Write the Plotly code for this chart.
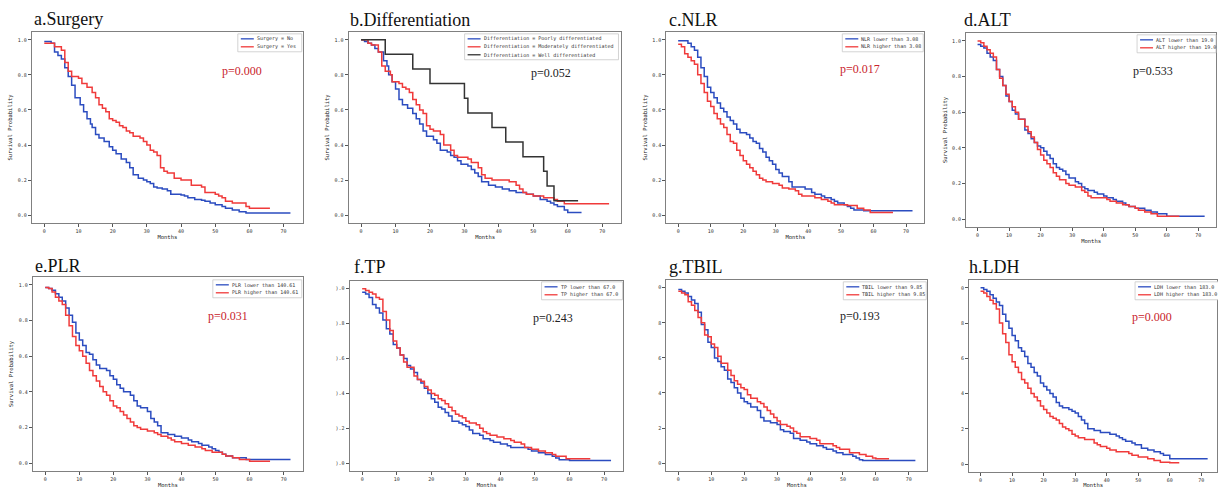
import plotly.graph_objects as go

W, H = 1218, 488
BLUE = "#2b4cc0"
RED = "#f03a3a"
BLACK = "#333333"
P_RED = "#c8232c"
P_BLACK = "#222222"
MONO = "DejaVu Sans Mono"
SERIF = "Liberation Serif"

# ---------------- data: (months, survival probability) ----------------
a_no = [(0,.99),(2,.98),(3,.93),(4,.91),(5,.89),(6,.84),(7,.79),(8,.74),(9,.67),(10.5,.63),(11.5,.59),(12.5,.55),(13.5,.52),(14,.50),(15,.46),(16,.44),(17.5,.42),(19,.39),(20,.37),(21,.35),(22.5,.32),(24,.30),(25,.27),(26,.23),(27.5,.21),(29,.20),(30,.19),(31,.18),(32,.16),(33,.155),(34.5,.15),(36,.14),(37,.12),(40,.115),(41,.11),(42,.10),(44,.09),(46,.085),(47,.08),(48.5,.07),(50,.06),(52,.05),(53,.04),(55,.03),(57,.02),(59,.012),(72,.012)]
a_yes = [(0,.98),(3,.96),(5,.94),(6,.87),(7,.82),(8,.79),(10,.78),(11,.75),(12.5,.73),(14,.70),(15,.67),(16,.63),(17,.61),(18,.59),(19,.55),(20,.54),(21,.53),(22,.51),(23,.50),(24,.48),(25,.47),(26,.45),(28,.44),(29,.42),(30,.40),(31,.37),(32,.36),(33,.34),(34,.27),(35,.25),(36,.24),(38,.21),(40,.20),(43,.17),(46,.16),(47,.13),(50,.12),(51,.11),(52,.10),(53,.08),(55,.07),(59,.05),(60,.04),(66,.04)]

b_poor = [(0,1.0),(1,.99),(2,.98),(3,.97),(4,.95),(5,.93),(6.5,.88),(7.5,.85),(8,.80),(9,.76),(10,.72),(11,.66),(12,.63),(13.5,.61),(15,.58),(16,.55),(17,.52),(18,.48),(19,.45),(21,.43),(22,.41),(23,.37),(25,.36),(26,.34),(27,.33),(28,.31),(29,.29),(31,.28),(32,.26),(33,.24),(34,.22),(35,.19),(37,.17),(39,.16),(41,.15),(43,.14),(45,.13),(48,.12),(50,.11),(52,.09),(54,.08),(55,.07),(56,.06),(57,.05),(59,.03),(60,.015),(64,.015)]
b_mod = [(0,1.0),(2,.98),(3,.97),(5,.93),(6,.85),(7,.82),(8.5,.80),(9,.76),(11,.75),(12,.73),(13,.72),(14,.70),(15,.66),(16,.63),(17,.60),(18,.58),(19,.51),(20,.49),(21,.48),(23,.46),(24,.40),(26,.37),(27,.34),(28,.33),(31,.32),(32,.30),(34,.27),(35,.23),(36,.21),(38,.20),(43,.19),(45,.17),(46,.15),(47,.13),(48,.12),(50,.11),(53,.10),(56,.09),(57,.08),(59,.065),(72,.065)]
b_well = [(0,1.0),(7,.917),(15,.833),(20,.75),(30,.667),(31,.583),(38,.5),(42,.417),(47,.333),(53,.25),(54,.167),(56,.083),(63,.083)]

c_low = [(0,.995),(3,.98),(4,.96),(5,.94),(6,.90),(7,.84),(8,.79),(9,.73),(10,.70),(11,.67),(12,.64),(13,.61),(14,.59),(15,.56),(16,.54),(17,.52),(18,.49),(19,.47),(21,.46),(22,.44),(23,.42),(24,.41),(25,.38),(26,.36),(27,.33),(28,.31),(29,.29),(30,.26),(31,.24),(32,.22),(34,.19),(35,.16),(39,.15),(41,.13),(42,.12),(44,.11),(45,.10),(47,.09),(48,.08),(49,.07),(51,.06),(52,.05),(53,.04),(54,.03),(57,.025),(72,.025)]
c_high = [(0,.975),(1,.96),(2,.92),(3,.90),(4,.88),(5,.86),(6,.80),(7,.75),(8,.70),(9,.65),(10,.62),(11,.58),(12,.55),(13,.52),(14,.50),(15,.46),(16,.42),(17,.41),(18,.37),(19,.34),(20,.31),(21,.29),(22,.27),(23,.25),(24,.23),(25,.21),(26,.20),(27,.19),(29,.18),(31,.17),(32,.155),(34,.15),(36,.14),(37,.12),(38,.11),(42,.10),(44,.09),(46,.08),(47,.07),(48,.06),(52,.055),(55,.04),(57,.03),(59,.015),(66,.015)]

d_low = [(0,.98),(1,.97),(2,.96),(3,.93),(4,.91),(5,.89),(6,.84),(7,.80),(8,.75),(9,.69),(10,.66),(11,.61),(12,.59),(13,.56),(15,.50),(16,.48),(17,.45),(18,.43),(19,.41),(20,.40),(21,.38),(22,.36),(23,.34),(24,.31),(25,.29),(26,.28),(27,.27),(28,.25),(29,.23),(31,.21),(32,.20),(33,.18),(34,.17),(35,.16),(37,.15),(38,.14),(40,.13),(41,.12),(43,.11),(44,.10),(46,.09),(47,.08),(48,.07),(50,.06),(53,.05),(55,.04),(57,.03),(60,.015),(72,.015)]
d_high = [(0,1.0),(1,.99),(2,.97),(3,.95),(4,.93),(5,.91),(6,.84),(7,.79),(8,.75),(9,.70),(10,.66),(11,.63),(12,.60),(13,.56),(15,.52),(16,.49),(17,.46),(18,.43),(19,.39),(20,.36),(21,.33),(22,.31),(23,.29),(24,.26),(25,.24),(26,.22),(28,.20),(29,.19),(31,.18),(33,.16),(34,.15),(35,.13),(36,.12),(41,.11),(42,.10),(44,.09),(46,.08),(48,.07),(50,.06),(51,.05),(53,.04),(55,.03),(57,.015),(64,.015)]

e_low = [(0,.985),(1,.98),(2,.97),(3,.95),(4,.93),(5,.91),(6,.87),(7,.83),(8,.79),(9,.73),(10,.69),(11,.66),(12,.62),(13,.61),(14,.58),(15,.55),(16,.53),(18,.52),(19,.49),(20,.47),(21,.44),(22,.42),(23,.40),(25,.38),(26,.35),(27,.32),(28,.31),(30,.29),(31,.25),(32,.23),(33,.21),(34,.17),(36,.16),(38,.15),(40,.14),(42,.13),(43,.12),(45,.11),(46,.10),(48,.09),(49,.08),(50,.07),(51,.06),(52,.05),(53,.04),(55,.03),(59,.02),(72,.02)]
e_high = [(0,.985),(1,.98),(2,.96),(3,.93),(4,.91),(5,.89),(6,.83),(7,.77),(8,.71),(9,.66),(10,.63),(11,.60),(12,.56),(13,.52),(14,.49),(15,.46),(16,.43),(17,.40),(18,.38),(19,.35),(20,.32),(21,.31),(22,.29),(23,.27),(24,.25),(25,.23),(26,.21),(27,.20),(28,.19),(30,.18),(32,.17),(33,.16),(34,.15),(36,.14),(37,.13),(38,.12),(40,.11),(42,.10),(44,.09),(46,.08),(47,.07),(49,.06),(52,.05),(53,.04),(55,.03),(57,.02),(60,.01),(66,.01)]

f_low = [(0,.98),(1,.97),(2,.95),(3,.91),(4,.89),(5,.86),(6,.82),(7,.77),(8,.74),(9,.68),(10,.66),(11,.62),(12,.60),(13,.56),(14,.54),(15,.52),(16,.48),(17,.46),(18,.43),(19,.40),(20,.37),(21,.35),(22,.32),(23,.31),(24,.29),(25,.27),(26,.24),(28,.23),(29,.22),(30,.21),(31,.19),(32,.17),(34,.16),(35,.14),(37,.13),(38,.12),(40,.11),(42,.10),(43,.09),(48,.08),(49,.07),(51,.06),(53,.05),(55,.04),(56,.03),(57,.02),(60,.015),(72,.015)]
f_high = [(0,1.0),(1,.99),(2,.98),(3,.97),(4,.95),(5,.94),(6,.87),(7,.82),(8,.76),(9,.70),(10,.66),(11,.62),(12,.58),(13,.55),(15,.50),(16,.48),(17,.47),(18,.44),(19,.42),(20,.40),(21,.39),(22,.37),(23,.36),(24,.34),(25,.32),(26,.30),(27,.28),(28,.27),(29,.26),(30,.24),(31,.23),(33,.22),(34,.20),(35,.18),(36,.17),(37,.16),(39,.15),(41,.14),(43,.13),(44,.12),(46,.11),(47,.09),(49,.08),(51,.07),(53,.06),(55,.05),(56,.04),(59,.025),(66,.025)]

g_low = [(0,.99),(1,.98),(2,.97),(3,.95),(4,.93),(5,.91),(6,.86),(7,.79),(8,.76),(9,.69),(10,.66),(11,.60),(12,.58),(13,.55),(14,.53),(15,.48),(16,.46),(17,.43),(18,.40),(19,.37),(20,.35),(21,.34),(22,.32),(24,.30),(25,.26),(26,.24),(28,.23),(30,.22),(31,.19),(32,.18),(34,.17),(35,.14),(37,.13),(39,.12),(40,.11),(42,.10),(44,.09),(45,.08),(47,.07),(48,.06),(50,.05),(53,.04),(54,.03),(55,.02),(56,.015),(72,.015)]
g_high = [(0,.98),(1,.97),(2,.96),(3,.92),(4,.90),(5,.87),(6,.83),(7,.80),(8,.73),(9,.72),(10,.68),(11,.66),(12,.61),(13,.57),(15,.53),(16,.50),(17,.47),(18,.45),(19,.43),(20,.42),(21,.39),(22,.37),(24,.35),(25,.34),(26,.32),(27,.30),(28,.28),(29,.26),(30,.24),(31,.22),(33,.21),(34,.20),(35,.18),(36,.17),(37,.15),(40,.14),(42,.13),(43,.11),(47,.10),(48,.09),(49,.08),(52,.06),(55,.05),(57,.04),(59,.03),(60,.025),(64,.025)]

h_low = [(0,1.0),(1,.99),(2,.98),(3,.96),(4,.94),(5,.92),(6,.90),(7,.85),(8,.81),(9,.77),(10,.73),(11,.70),(12,.66),(13,.64),(14,.61),(15,.57),(16,.55),(17,.52),(18,.50),(19,.46),(20,.44),(21,.42),(22,.40),(23,.38),(24,.35),(25,.33),(26,.32),(28,.31),(29,.30),(30,.29),(31,.27),(32,.25),(33,.23),(34,.20),(36,.19),(38,.18),(41,.17),(43,.16),(44,.15),(45,.14),(46,.13),(48,.12),(49,.11),(51,.09),(53,.08),(55,.07),(57,.06),(58,.05),(60,.03),(72,.03)]
h_high = [(0,.98),(1,.97),(2,.95),(3,.93),(4,.91),(5,.88),(6,.80),(7,.74),(8,.69),(9,.62),(10,.58),(11,.55),(12,.52),(13,.48),(14,.46),(15,.43),(16,.40),(17,.38),(18,.36),(19,.33),(20,.31),(21,.29),(22,.27),(23,.26),(24,.25),(25,.23),(26,.21),(27,.20),(28,.19),(29,.17),(30,.16),(31,.15),(33,.14),(36,.12),(37,.11),(38,.10),(40,.09),(41,.08),(43,.07),(47,.06),(48,.05),(50,.04),(53,.03),(55,.02),(57,.01),(60,.008),(63,.008)]

x_ticks = [0, 10, 20, 30, 40, 50, 60, 70]
y_ticks = [0.0, 0.2, 0.4, 0.6, 0.8, 1.0]
y_labels_full = ["0.0", "0.2", "0.4", "0.6", "0.8", "1.0"]
y_labels_f = [").0", ").2", ").4", ").6", ").8", ").0"]
y_labels_gh = ["0", "2", "4", "6", "8", "0"]

# ---------------- layout of the eight panels ----------------
panels = [
    dict(title="a.Surgery", tpos=(32, 19), box=(32, 303, 32, 224),
         curves=[(a_no, "Surgery = No", BLUE), (a_yes, "Surgery = Yes", RED)],
         p="p=0.000", pcol=P_RED, ppos=(242, 71), leg=(238, 302, 34), ylab=True, yt=y_labels_full),
    dict(title="b.Differentiation", tpos=(348, 20), box=(349, 622, 32, 224),
         curves=[(b_poor, "Differentiation = Poorly differentiated", BLUE),
                 (b_mod, "Differentiation = Moderately differentiated", RED),
                 (b_well, "Differentiation = Well differentiated", BLACK)],
         p="p=0.052", pcol=P_BLACK, ppos=(551, 73), leg=(465, 619, 34), ylab=True, yt=y_labels_full),
    dict(title="c.NLR", tpos=(668, 20), box=(667, 925, 32, 224),
         curves=[(c_low, "NLR lower than 3.08", BLUE), (c_high, "NLR higher than 3.08", RED)],
         p="p=0.017", pcol=P_RED, ppos=(861, 69), leg=(843, 924, 34), ylab=True, yt=y_labels_full),
    dict(title="d.ALT", tpos=(963, 20), box=(967, 1217, 33, 228),
         curves=[(d_low, "ALT lower than 19.0", BLUE), (d_high, "ALT higher than 19.0", RED)],
         p="p=0.533", pcol=P_BLACK, ppos=(1154, 71), leg=(1138, 1217, 35), ylab=True, yt=y_labels_full),
    dict(title="e.PLR", tpos=(33, 267), box=(33, 303, 278, 473),
         curves=[(e_low, "PLR lower than 140.61", BLUE), (e_high, "PLR higher than 140.61", RED)],
         p="p=0.031", pcol=P_RED, ppos=(228, 317), leg=(213, 302, 281), ylab=True, yt=y_labels_full),
    dict(title="f.TP", tpos=(352, 268), box=(350, 624, 282, 473),
         curves=[(f_low, "TP lower than 67.0", BLUE), (f_high, "TP higher than 67.0", RED)],
         p="p=0.243", pcol=P_BLACK, ppos=(553, 319), leg=(542, 623, 283), ylab=False, yt=y_labels_f),
    dict(title="g.TBIL", tpos=(668, 268), box=(667, 928, 281, 473),
         curves=[(g_low, "TBIL lower than 9.85", BLUE), (g_high, "TBIL higher than 9.85", RED)],
         p="p=0.193", pcol=P_BLACK, ppos=(861, 317), leg=(844, 927, 283), ylab=False, yt=y_labels_gh),
    dict(title="h.LDH", tpos=(968, 268), box=(970, 1220, 281, 474),
         curves=[(h_low, "LDH lower than 183.0", BLUE), (h_high, "LDH higher than 183.0", RED)],
         p="p=0.000", pcol=P_RED, ppos=(1153, 318), leg=(1136, 1220, 283), ylab=False, yt=y_labels_gh),
]

XMIN, XMAX = -3.6, 75.6
YMIN, YMAX = -0.045, 1.045

fig = go.Figure()
shapes, annos = [], []
small = dict(family=MONO, size=5, color="#333333")
axtitle = dict(family=MONO, size=5.5, color="#222222")


def px(x):
    return x / W


def py(y):
    return 1 - y / H


for i, pn in enumerate(panels, start=1):
    L, R, T, B = pn["box"]
    scale = (R - L) / (XMAX - XMIN)
    xmax = XMAX
    if R > W:
        xmax = XMIN + (W - L) / scale
        R = W
    xa = "x" if i == 1 else f"x{i}"
    ya = "y" if i == 1 else f"y{i}"
    for pts, label, col in pn["curves"]:
        fig.add_trace(go.Scatter(
            x=[t for t, _ in pts], y=[s for _, s in pts], mode="lines", name=label,
            line=dict(shape="hv", color=col, width=1.5), xaxis=xa, yaxis=ya, showlegend=False))
    common = dict(showline=True, mirror=True, linecolor="#808080", linewidth=1.2,
                  ticks="outside", ticklen=3, tickwidth=0.8, tickcolor="#555555",
                  tickfont=small, showgrid=False, zeroline=False)
    fig.layout["xaxis" if i == 1 else f"xaxis{i}"] = dict(
        domain=[px(L), px(R)], anchor=ya, range=[XMIN, xmax], tickvals=x_ticks,
        title=dict(text="Months", font=axtitle, standoff=1), **common)
    fig.layout["yaxis" if i == 1 else f"yaxis{i}"] = dict(
        domain=[py(B), py(T)], anchor=xa, range=[YMIN, YMAX], tickvals=y_ticks, ticktext=pn["yt"],
        title=dict(text="Survival Probability" if pn["ylab"] else "", font=axtitle, standoff=4), **common)

    # title
    annos.append(dict(text=pn["title"], x=px(pn["tpos"][0]), y=py(pn["tpos"][1]), xref="paper", yref="paper",
                      xanchor="left", yanchor="middle", showarrow=False,
                      font=dict(family=SERIF, size=18, color="#111111")))
    # p value
    annos.append(dict(text=pn["p"], x=px(pn["ppos"][0]), y=py(pn["ppos"][1]), xref="paper", yref="paper",
                      xanchor="center", yanchor="middle", showarrow=False,
                      font=dict(family=SERIF, size=12, color=pn["pcol"])))
    # legend box
    lL, lR, lT = pn["leg"]
    n = len(pn["curves"])
    lB = lT + 8 * n + 2
    shapes.append(dict(type="rect", xref="paper", yref="paper", x0=px(lL), x1=px(lR), y0=py(lB), y1=py(lT),
                       line=dict(color="#c8c8c8", width=0.8), fillcolor="white", layer="above"))
    for k, (_, label, col) in enumerate(pn["curves"]):
        yy = lT + 5 + 8 * k
        shapes.append(dict(type="line", xref="paper", yref="paper", x0=px(lL + 3), x1=px(lL + 16),
                           y0=py(yy), y1=py(yy), line=dict(color=col, width=1.3), layer="above"))
        annos.append(dict(text=label, x=px(lL + 18), y=py(yy), xref="paper", yref="paper",
                          xanchor="left", yanchor="middle", showarrow=False, borderpad=0,
                          font=small))

fig.update_layout(width=W, height=H, margin=dict(l=0, r=0, t=0, b=0),
                  paper_bgcolor="white", plot_bgcolor="white",
                  shapes=shapes, annotations=annos, showlegend=False)
fig.write_html("out.html", config={"displayModeBar": False},
               post_script="document.body.style.margin='0px';")
